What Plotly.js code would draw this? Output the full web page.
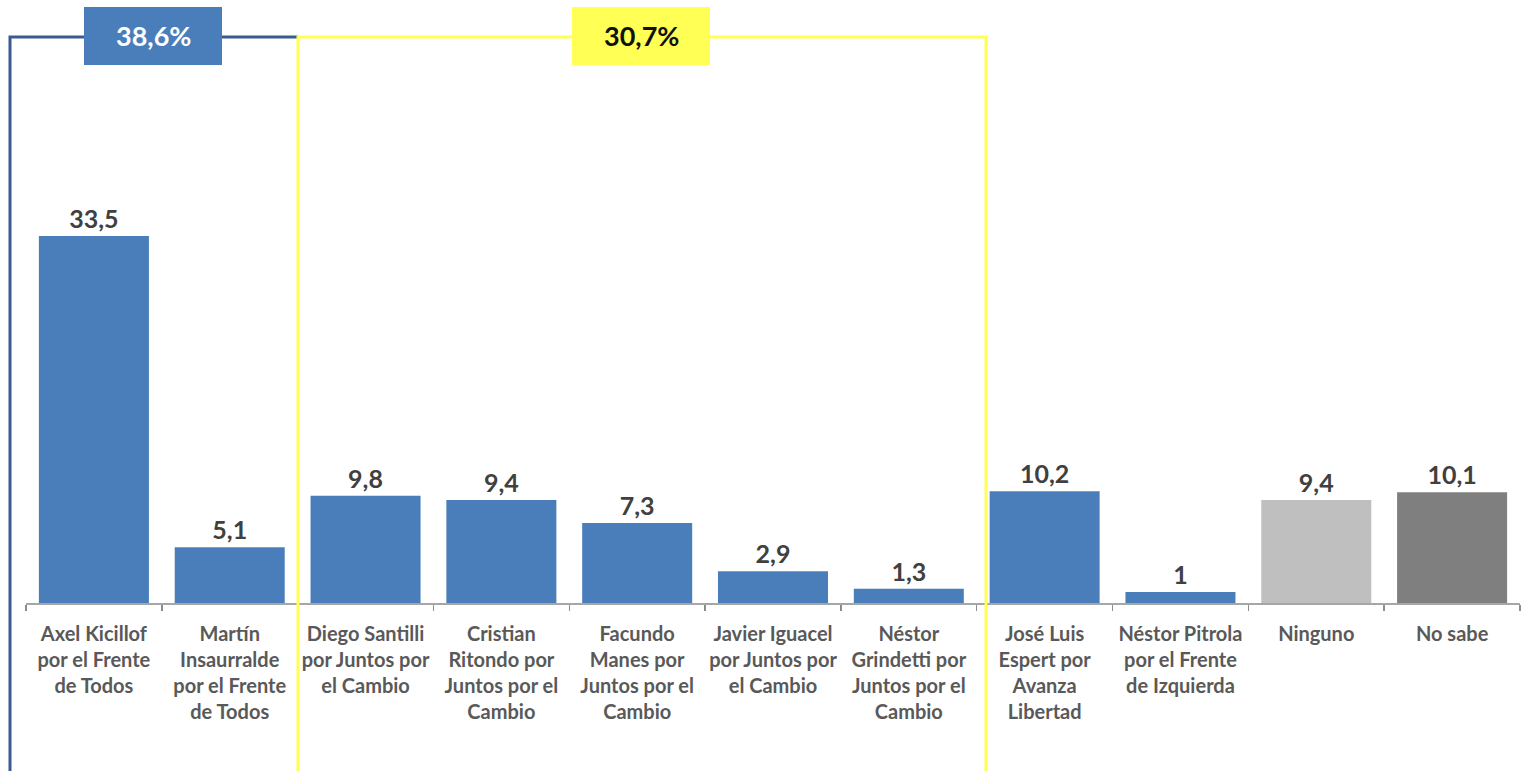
<!DOCTYPE html>
<html>
<head>
<meta charset="utf-8">
<script src="https://cdn.plot.ly/plotly-3.0.1.min.js"></script>
<style>html,body{margin:0;padding:0;background:#fff;}#chart{width:1530px;height:771px;}</style>
</head>
<body>
<div id="chart"></div>
<script>
const categories = ["Axel Kicillof", "Martín Insaurralde", "Diego Santilli", "Cristian Ritondo", "Facundo Manes", "Javier Iguacel", "Néstor Grindetti", "José Luis Espert", "Néstor Pitrola", "Ninguno", "No sabe"];
const tickLabels = [
  "Axel Kicillof<br>por el Frente<br>de Todos",
  "Martín<br>Insaurralde<br>por el Frente<br>de Todos",
  "Diego Santilli<br>por Juntos por<br>el Cambio",
  "Cristian<br>Ritondo por<br>Juntos por el<br>Cambio",
  "Facundo<br>Manes por<br>Juntos por el<br>Cambio",
  "Javier Iguacel<br>por Juntos por<br>el Cambio",
  "Néstor<br>Grindetti por<br>Juntos por el<br>Cambio",
  "José Luis<br>Espert por<br>Avanza<br>Libertad",
  "Néstor Pitrola<br>por el Frente<br>de Izquierda",
  "Ninguno",
  "No sabe"
];
const values = [33.5, 5.1, 9.8, 9.4, 7.3, 2.9, 1.3, 10.2, 1, 9.4, 10.1];
const barColors = ["#4a7ebb", "#4a7ebb", "#4a7ebb", "#4a7ebb", "#4a7ebb", "#4a7ebb", "#4a7ebb", "#4a7ebb", "#4a7ebb", "#bfbfbf", "#7f7f7f"];
const groupLabels = ["38,6%", "30,7%"];

const fmt = v => String(v).replace('.', ',');

const trace = {
  type: 'bar',
  x: categories,
  y: values,
  marker: {color: barColors},
  text: values.map(fmt),
  textposition: 'outside',
  cliponaxis: false,
  textfont: {family: 'Lato, "Open Sans", sans-serif', size: 25, color: '#404040', weight: 'bold'},
  hoverinfo: 'none'
};

const L = 26, R = 10, T = 40, B = 168;
const W = 1530 - L - R, H = 771 - T - B;
const px = x => (x - L) / W;
const py = y => (771 - B - y) / H;

const layout = {
  width: 1530, height: 771,
  margin: {l: L, r: R, t: T, b: B, pad: 0},
  paper_bgcolor: '#ffffff', plot_bgcolor: '#ffffff',
  showlegend: false,
  bargap: 0.19,
  font: {family: 'Lato, "Open Sans", sans-serif'},
  xaxis: {
    type: 'category',
    tickvals: categories,
    ticktext: tickLabels,
    tickangle: 0,
    tickson: 'boundaries',
    ticks: 'outside', ticklen: 6, tickcolor: '#8c8c8c', tickwidth: 1.5,
    ticklabelstandoff: 12,
    showline: true, linecolor: '#a6a6a6', linewidth: 1.5,
    showgrid: false, zeroline: false,
    tickfont: {family: 'Lato, "Open Sans", sans-serif', size: 20, color: '#595959', weight: 'bold'},
    fixedrange: true
  },
  yaxis: {visible: false, range: [0, H / 10.955], showgrid: false, zeroline: false, fixedrange: true},
  shapes: [
    {type: 'path', xref: 'paper', yref: 'paper',
     path: `M ${px(10)} ${py(900)} L ${px(10)} ${py(37)} L ${px(298)} ${py(37)}`,
     line: {color: '#3a5b8f', width: 3}, layer: 'above'},
    {type: 'path', xref: 'paper', yref: 'paper',
     path: `M ${px(298)} ${py(900)} L ${px(298)} ${py(37)} L ${px(986)} ${py(37)} L ${px(986)} ${py(900)}`,
     line: {color: '#ffff55', width: 3}, layer: 'above'},
    {type: 'rect', xref: 'paper', yref: 'paper', x0: px(84), x1: px(222), y0: py(65), y1: py(7),
     fillcolor: '#4a7ebb', line: {width: 0}, layer: 'above'},
    {type: 'rect', xref: 'paper', yref: 'paper', x0: px(572), x1: px(710), y0: py(65), y1: py(7),
     fillcolor: '#ffff55', line: {width: 0}, layer: 'above'}
  ],
  annotations: [
    {xref: 'paper', yref: 'paper', x: px(153), y: py(36), text: groupLabels[0], showarrow: false,
     xanchor: 'center', yanchor: 'middle',
     font: {family: 'Lato, "Open Sans", sans-serif', size: 27, color: '#ffffff', weight: 'bold'}},
    {xref: 'paper', yref: 'paper', x: px(641), y: py(36), text: groupLabels[1], showarrow: false,
     xanchor: 'center', yanchor: 'middle',
     font: {family: 'Lato, "Open Sans", sans-serif', size: 27, color: '#111111', weight: 'bold'}}
  ]
};

Plotly.newPlot('chart', [trace], layout, {displayModeBar: false, staticPlot: true});
</script>
</body>
</html>
